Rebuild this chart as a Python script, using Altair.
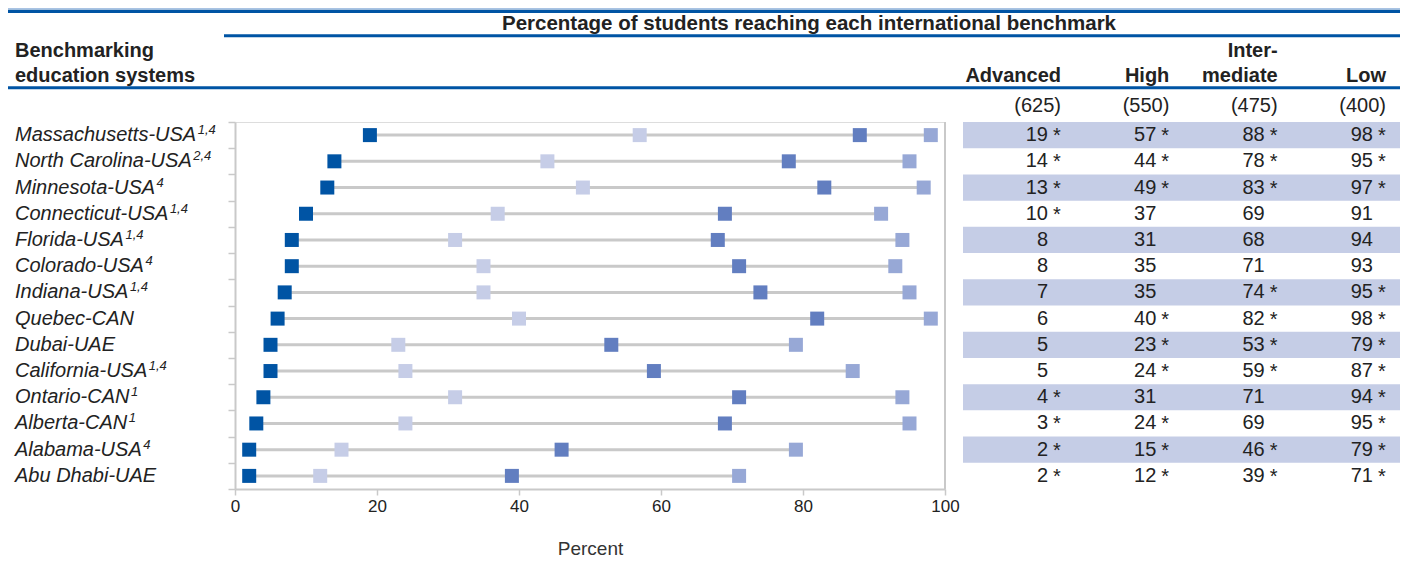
import altair as alt
import pandas as pd

systems = [
    "Massachusetts-USA", "North Carolina-USA", "Minnesota-USA",
    "Connecticut-USA", "Florida-USA", "Colorado-USA", "Indiana-USA",
    "Quebec-CAN", "Dubai-UAE", "California-USA", "Ontario-CAN",
    "Alberta-CAN", "Alabama-USA", "Abu Dhabi-UAE",
]
footnotes = ["1,4", "2,4", "4", "1,4", "1,4", "4", "1,4",
             "", "", "1,4", "1", "1", "4", ""]
advanced = [19, 14, 13, 10, 8, 8, 7, 6, 5, 5, 4, 3, 2, 2]
high = [57, 44, 49, 37, 31, 35, 35, 40, 23, 24, 31, 24, 15, 12]
intermediate = [88, 78, 83, 69, 68, 71, 74, 82, 53, 59, 71, 69, 46, 39]
low = [98, 95, 97, 91, 94, 93, 95, 98, 79, 87, 94, 95, 79, 71]
adv_star = [1, 1, 1, 1, 0, 0, 0, 0, 0, 0, 1, 1, 1, 1]
high_star = [1, 1, 1, 0, 0, 0, 0, 1, 1, 1, 0, 1, 1, 1]
int_star = [1, 1, 1, 0, 0, 0, 1, 1, 1, 1, 0, 0, 1, 1]
low_star = [1, 1, 1, 0, 0, 0, 1, 1, 1, 1, 1, 1, 1, 1]

levels = ["Advanced", "High", "Intermediate", "Low"]
level_colors = ["#0054A4", "#C6CDE7", "#627EC0", "#97A8D6"]
head_line1 = ["", "", "Inter-", ""]
head_line2 = ["Advanced", "High", "mediate", "Low"]
score_labels = ["(625)", "(550)", "(475)", "(400)"]
x_ticks = [0, 20, 40, 60, 80, 100]

W, H = 710, 367
BLUE = "#0054A4"
GRAY = "#C9C9C9"
TXT = "#222222"
FONT = "Liberation Sans"
LABEL_SIZE = 20
LABEL_X = -220

# Arial / Liberation Sans advance widths (1/1000 em) to place the footnote marks
ADV = {" ": 278, "-": 333, "A": 667, "C": 722, "D": 722, "E": 667, "F": 611,
       "I": 278, "M": 833, "N": 722, "O": 778, "Q": 778, "S": 667, "U": 722,
       "a": 556, "b": 556, "c": 500, "d": 556, "e": 556, "f": 278, "h": 556,
       "i": 222, "k": 500, "l": 222, "m": 833, "n": 556, "o": 556, "r": 333,
       "s": 500, "t": 278, "u": 556}


def text_width(s, size):
    return sum(ADV.get(ch, 556) for ch in s) * size / 1000.0


wide = pd.DataFrame({"system": systems, "Advanced": advanced, "Low": low,
                     "row": list(range(len(systems))), "note": footnotes})
wide["note_x"] = [LABEL_X + text_width(s, LABEL_SIZE) + 1.5 for s in systems]

series = {"Advanced": (advanced, adv_star), "High": (high, high_star),
          "Intermediate": (intermediate, int_star), "Low": (low, low_star)}
rows = []
for lv in levels:
    vals, stars = series[lv]
    for s, v, st in zip(systems, vals, stars):
        rows.append({"system": s, "level": lv, "value": v,
                     "label": str(v), "star": "*" if st else ""})
long = pd.DataFrame(rows)
heads = pd.DataFrame({"level": levels, "h1": head_line1, "h2": head_line2,
                      "score": score_labels})

yscale = alt.Scale(domain=systems, paddingInner=0, paddingOuter=0)
yaxis = alt.Axis(labels=False, title=None, tickBand="extent", tickSize=7,
                 tickColor=GRAY, tickWidth=1.5, domainColor=GRAY,
                 domainWidth=2, grid=False)
Y = alt.Y("system:N", sort=systems, scale=yscale, axis=yaxis, title=None)

xscale = alt.Scale(domain=[0, 100], nice=False, zero=True)
xaxis = alt.Axis(values=x_ticks, title="Percent", grid=False,
                 labelFontSize=17, labelColor=TXT, labelPadding=3,
                 labelFlush=False, labelOverlap=False,
                 tickSize=6, tickColor=GRAY, tickWidth=1.5,
                 domainColor=GRAY, domainWidth=2, titleFontSize=19,
                 titleFontWeight="normal", titleColor="#333333",
                 titlePadding=25, titleFont=FONT, labelFont=FONT)

# table x scale (right edge of the digits)
tscale = alt.Scale(domain=levels, range=[813, 1138], padding=0)
TX = alt.X("level:N", scale=tscale, axis=None, sort=levels)

shade = alt.Chart(wide).transform_filter("datum.row % 2 == 0").mark_rect(
    color="#C5CDE6").encode(y=Y, x=alt.value(728), x2=alt.value(1165))

conn = alt.Chart(wide).mark_rule(color=GRAY, strokeWidth=3).encode(
    x=alt.X("Advanced:Q", scale=xscale, axis=xaxis), x2="Low:Q", y=Y)

dots = alt.Chart(long).mark_square(size=196, opacity=1, strokeWidth=0).encode(
    x=alt.X("value:Q", scale=xscale, axis=xaxis), y=Y,
    color=alt.Color("level:N", scale=alt.Scale(domain=levels, range=level_colors),
                    legend=None))

frame = alt.Chart(pd.DataFrame({"a": [0]})).mark_rule(
    color=GRAY, strokeWidth=2).encode(x=alt.value(W), y=alt.value(0),
                                      y2=alt.value(H))

plot = alt.layer(conn, dots)

nums = alt.Chart(long).mark_text(align="right", baseline="middle",
                                 fontSize=20, font=FONT, color=TXT).encode(
    x=TX, y=Y, text="label:N")
stars = alt.Chart(long).mark_text(align="left", baseline="middle", dx=5, dy=1,
                                  fontSize=20, font=FONT, color=TXT).encode(
    x=TX, y=Y, text="star:N")

sys_labels = alt.Chart(wide).mark_text(align="left", baseline="middle",
                                       fontSize=LABEL_SIZE, font=FONT,
                                       fontStyle="italic", color=TXT).encode(
    x=alt.value(LABEL_X), y=Y, text="system:N")
sys_notes = alt.Chart(wide).mark_text(align="left", baseline="middle", dy=-5,
                                      fontSize=13, font=FONT,
                                      fontStyle="italic", color=TXT).encode(
    x=alt.X("note_x:Q", scale=None), y=Y, text="note:N")

h1 = alt.Chart(heads).mark_text(align="right", baseline="alphabetic", dx=13,
                                fontSize=20, fontWeight="bold", font=FONT,
                                color=TXT).encode(
    x=TX, y=alt.value(-65), text="h1:N")
h2 = alt.Chart(heads).mark_text(align="right", baseline="alphabetic", dx=13,
                                fontSize=20, fontWeight="bold", font=FONT,
                                color=TXT).encode(
    x=TX, y=alt.value(-40), text="h2:N")
hs = alt.Chart(heads).mark_text(align="right", baseline="middle", dx=13,
                                fontSize=20, font=FONT, color=TXT).encode(
    x=TX, y=alt.value(-16), text="score:N")

one = pd.DataFrame({"t": ["Percentage of students reaching each international benchmark"]})
title_txt = alt.Chart(one).mark_text(align="center", baseline="middle",
                                     fontSize=20.5, fontWeight="bold", font=FONT,
                                     color=TXT).encode(
    x=alt.value(574), y=alt.value(-98), text="t:N")
bench = pd.DataFrame({"t": ["Benchmarking", "education systems"], "k": [0, 1]})
bench1 = alt.Chart(bench).transform_filter("datum.k == 0").mark_text(
    align="left", baseline="alphabetic", fontSize=20, fontWeight="bold",
    font=FONT, color=TXT).encode(x=alt.value(-220), y=alt.value(-65), text="t:N")
bench2 = alt.Chart(bench).transform_filter("datum.k == 1").mark_text(
    align="left", baseline="alphabetic", fontSize=20, fontWeight="bold",
    font=FONT, color=TXT).encode(x=alt.value(-220), y=alt.value(-40), text="t:N")

line_light = alt.Chart(one).mark_rule(color="#A9C3E3", strokeWidth=1.5).encode(
    x=alt.value(-227), x2=alt.value(1165), y=alt.value(-113.2), y2=alt.value(-113.2))
line_top = alt.Chart(one).mark_rule(color=BLUE, strokeWidth=3.2).encode(
    x=alt.value(-227), x2=alt.value(1165), y=alt.value(-110.6), y2=alt.value(-110.6))
line_mid = alt.Chart(one).mark_rule(color=BLUE, strokeWidth=3).encode(
    x=alt.value(-11), x2=alt.value(1165), y=alt.value(-86.2), y2=alt.value(-86.2))
line_bot = alt.Chart(one).mark_rule(color=BLUE, strokeWidth=3).encode(
    x=alt.value(-227), x2=alt.value(1165), y=alt.value(-34.2), y2=alt.value(-34.2))

chart = alt.layer(
    shade, plot, frame, nums, stars, sys_labels, sys_notes, h1, h2, hs,
    title_txt, bench1, bench2, line_light, line_top, line_mid, line_bot,
).resolve_scale(x="independent").properties(
    width=W, height=H,
    autosize=alt.AutoSizeParams(type="none"),
    padding={"left": 227, "top": 114, "right": 456, "bottom": 70},
).configure_view(stroke="transparent", strokeWidth=0).configure(font=FONT)

chart.save("out.html", embed_options={"renderer": "svg", "actions": False})
